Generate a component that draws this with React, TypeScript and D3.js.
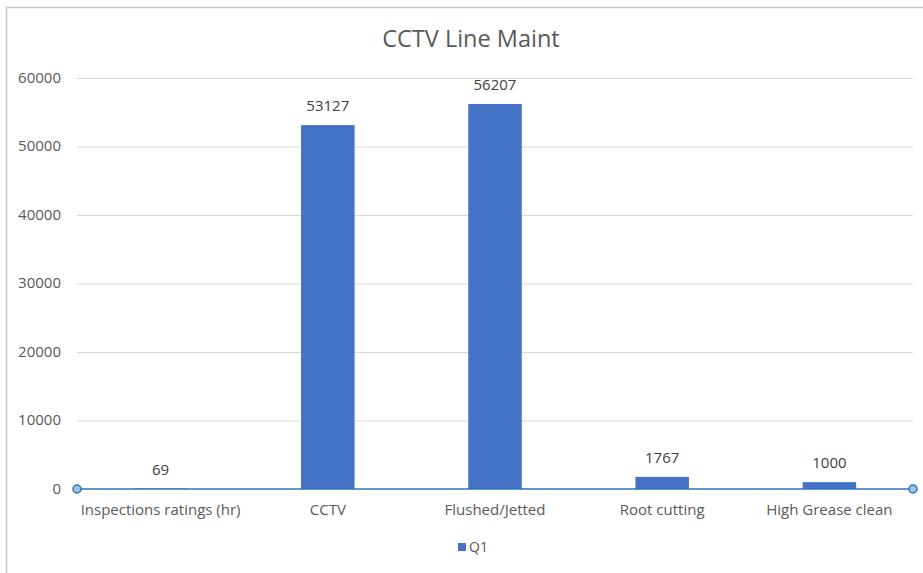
import React, { useRef, useEffect } from 'react'
import * as d3 from 'd3'

const categories = ['Inspections ratings (hr)', 'CCTV', 'Flushed/Jetted', 'Root cutting', 'High Grease clean']
const q1Values = [69, 53127, 56207, 1767, 1000]
const yTicks = [0, 10000, 20000, 30000, 40000, 50000, 60000]
const seriesName = 'Q1'
const chartTitle = 'CCTV Line Maint'

export default function App() {
  const svgRef = useRef<SVGSVGElement | null>(null)
  const width = 923
  const height = 573

  useEffect(() => {
    if (!svgRef.current) return
    const svg = d3.select(svgRef.current)
    svg.selectAll('*').remove()

    const font = '"Open Sans", "Noto Sans", sans-serif'
    const textColor = '#595959'
    const left = 77
    const right = 913
    const top = 78
    const bottom = 489

    svg.append('rect').attr('width', width).attr('height', height).attr('fill', '#fff')
    svg.append('rect')
      .attr('x', 6.5).attr('y', 7.5)
      .attr('width', width + 10).attr('height', height + 10)
      .attr('fill', 'none').attr('stroke', '#c8c8c8').attr('stroke-width', 1.5)

    const x = d3.scaleBand().domain(categories).range([left, right]).paddingInner(0.68).paddingOuter(0.34)
    const y = d3.scaleLinear().domain([0, 60000]).range([bottom, top])

    svg.append('text')
      .attr('x', 471).attr('y', 47)
      .attr('text-anchor', 'middle')
      .attr('font-family', font).attr('font-size', 23.5)
      .attr('fill', textColor)
      .text(chartTitle)

    yTicks.forEach(t => {
      if (t > 0) {
        svg.append('line')
          .attr('x1', left).attr('x2', right)
          .attr('y1', y(t) + 0.5).attr('y2', y(t) + 0.5)
          .attr('stroke', '#d9d9d9').attr('stroke-width', 1)
      }
      svg.append('text')
        .attr('x', 61).attr('y', y(t))
        .attr('dy', '0.3em')
        .attr('text-anchor', 'end')
        .attr('font-family', font).attr('font-size', 15)
        .attr('fill', textColor)
        .text(t)
    })

    categories.forEach((c, i) => {
      const v = q1Values[i]
      const bx = x(c) as number
      svg.append('rect')
        .attr('x', bx).attr('y', y(v))
        .attr('width', x.bandwidth()).attr('height', bottom - y(v))
        .attr('fill', '#4472C4')
      svg.append('text')
        .attr('x', bx + x.bandwidth() / 2).attr('y', y(v) - 14)
        .attr('text-anchor', 'middle')
        .attr('font-family', font).attr('font-size', 15)
        .attr('fill', '#404040')
        .text(v)
      svg.append('text')
        .attr('x', bx + x.bandwidth() / 2).attr('y', 515)
        .attr('text-anchor', 'middle')
        .attr('font-family', font).attr('font-size', 15)
        .attr('fill', textColor)
        .text(c)
    })

    svg.append('line')
      .attr('x1', left).attr('x2', right)
      .attr('y1', bottom).attr('y2', bottom)
      .attr('stroke', '#2E75B6').attr('stroke-width', 1.5)
    ;[left, right].forEach(cx => {
      svg.append('circle')
        .attr('cx', cx).attr('cy', bottom).attr('r', 4)
        .attr('fill', '#9DC3E6').attr('stroke', '#2E75B6').attr('stroke-width', 1.5)
    })

    svg.append('rect')
      .attr('x', 458).attr('y', 543).attr('width', 8).attr('height', 8)
      .attr('fill', '#4472C4')
    svg.append('text')
      .attr('x', 469).attr('y', 547)
      .attr('dy', '0.35em')
      .attr('font-family', font).attr('font-size', 14)
      .attr('fill', textColor)
      .text(seriesName)
  }, [])

  return (
    <svg
      ref={svgRef}
      width={width}
      height={height}
      style={{ position: 'absolute', left: 0, top: 0, display: 'block' }}
    />
  )
}
